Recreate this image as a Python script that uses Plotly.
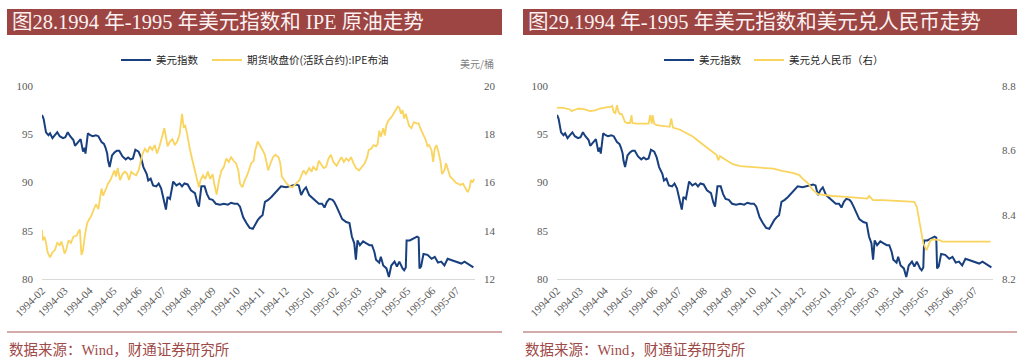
import plotly.graph_objects as go

# ---------------- data ----------------
usd_dates = [
    "1994-02-01", "1994-02-03", "1994-02-06", "1994-02-09", "1994-02-11", "1994-02-14", "1994-02-17",
    "1994-02-20", "1994-02-23", "1994-02-27", "1994-03-02", "1994-03-05", "1994-03-08", "1994-03-12",
    "1994-03-14", "1994-03-18", "1994-03-21", "1994-03-24", "1994-03-26", "1994-03-27", "1994-03-30",
    "1994-04-02", "1994-04-05", "1994-04-09", "1994-04-12", "1994-04-16", "1994-04-19", "1994-04-21",
    "1994-04-23", "1994-04-24", "1994-04-26", "1994-04-28", "1994-04-29", "1994-05-02", "1994-05-05",
    "1994-05-08", "1994-05-12", "1994-05-16", "1994-05-19", "1994-05-22", "1994-05-25", "1994-05-28",
    "1994-06-01", "1994-06-04", "1994-06-07", "1994-06-11", "1994-06-13", "1994-06-16", "1994-06-19",
    "1994-06-23", "1994-06-26", "1994-06-29", "1994-07-02", "1994-07-05", "1994-07-07", "1994-07-10",
    "1994-07-14", "1994-07-18", "1994-07-22", "1994-07-25", "1994-07-28", "1994-08-01", "1994-08-05",
    "1994-08-10", "1994-08-13", "1994-08-15", "1994-08-18", "1994-08-22", "1994-08-25", "1994-08-28",
    "1994-09-01", "1994-09-05", "1994-09-10", "1994-09-15", "1994-09-20", "1994-09-24", "1994-09-28",
    "1994-10-02", "1994-10-05", "1994-10-09", "1994-10-13", "1994-10-17", "1994-10-21", "1994-10-24",
    "1994-10-27", "1994-10-30", "1994-11-02", "1994-11-05", "1994-11-09", "1994-11-13", "1994-11-17",
    "1994-11-21", "1994-11-25", "1994-12-01", "1994-12-08", "1994-12-14", "1994-12-17", "1994-12-20",
    "1994-12-23", "1994-12-26", "1994-12-30", "1995-01-03", "1995-01-07", "1995-01-11", "1995-01-15",
    "1995-01-18", "1995-01-21", "1995-01-24", "1995-01-28", "1995-01-30", "1995-02-02", "1995-02-06",
    "1995-02-09", "1995-02-14", "1995-02-18", "1995-02-21", "1995-02-24", "1995-02-26", "1995-02-28",
    "1995-03-03", "1995-03-07", "1995-03-11", "1995-03-15", "1995-03-18", "1995-03-21", "1995-03-23",
    "1995-03-27", "1995-03-29", "1995-04-01", "1995-04-05", "1995-04-08", "1995-04-11", "1995-04-15",
    "1995-04-18", "1995-04-21", "1995-04-25", "1995-04-27", "1995-04-29", "1995-04-30", "1995-05-04",
    "1995-05-09", "1995-05-13", "1995-05-15", "1995-05-16", "1995-05-18", "1995-05-21", "1995-05-26",
    "1995-05-31", "1995-06-04", "1995-06-08", "1995-06-12", "1995-06-16", "1995-06-20", "1995-06-24",
    "1995-06-29", "1995-07-03", "1995-07-07", "1995-07-11", "1995-07-15", "1995-07-19", "1995-07-22",
]
usd_vals = [
    97.0, 96.6, 95.2, 94.9, 95.1, 94.6, 94.9,
    95.2, 94.8, 94.6, 94.7, 95.2, 94.8, 94.4,
    93.8, 94.2, 94.5, 93.2, 93.6, 93.0, 95.1,
    94.9, 94.8, 94.9, 94.8, 94.2, 94.0, 93.6,
    93.0, 92.3, 91.6, 92.4, 92.8, 93.1, 93.3,
    93.3, 92.7, 92.4, 92.6, 92.4, 92.5, 93.4,
    93.2, 92.6, 91.6, 90.9, 90.2, 90.4, 89.7,
    89.6, 89.9, 89.4, 88.3, 87.2, 88.5, 88.3,
    90.1, 89.7, 89.9, 89.6, 89.9, 89.8, 89.2,
    88.9, 87.9, 87.5, 89.6, 89.6, 88.8, 88.3,
    88.2, 87.8, 87.7, 87.8, 87.7, 87.9, 87.8,
    87.8, 87.5, 86.4, 85.8, 85.3, 85.2, 85.7,
    86.1, 86.4, 86.6, 88.0, 88.2, 88.5, 88.9,
    89.2, 89.6, 89.5, 89.7, 89.8, 89.7, 88.7,
    89.2, 89.5, 88.7, 88.4, 88.1, 87.8, 87.8,
    87.4, 88.0, 88.3, 88.2, 88.0, 87.5, 86.8,
    86.2, 85.9, 85.8, 84.4, 83.7, 82.0, 84.0,
    83.5, 83.9, 83.7, 83.5, 83.5, 82.8, 82.0,
    81.7, 82.3, 81.4, 81.1, 80.2, 81.4, 81.8,
    81.3, 81.8, 81.1, 80.9, 81.2, 84.0, 84.0,
    84.2, 84.4, 84.3, 81.1, 81.3, 82.6, 82.5,
    82.1, 82.3, 81.7, 81.8, 81.4, 82.1, 82.0,
    81.8, 81.7, 81.6, 81.8, 81.6, 81.4, 81.2,
]

oil_dates = [
    "1994-02-01", "1994-02-02", "1994-02-04", "1994-02-06", "1994-02-08", "1994-02-11", "1994-02-14",
    "1994-02-17", "1994-02-20", "1994-02-23", "1994-02-25", "1994-02-27", "1994-03-01", "1994-03-03",
    "1994-03-06", "1994-03-09", "1994-03-12", "1994-03-16", "1994-03-18", "1994-03-20", "1994-03-22",
    "1994-03-24", "1994-03-26", "1994-03-29", "1994-03-31", "1994-04-03", "1994-04-06", "1994-04-09",
    "1994-04-12", "1994-04-14", "1994-04-16", "1994-04-18", "1994-04-21", "1994-04-24", "1994-04-27",
    "1994-04-29", "1994-05-02", "1994-05-04", "1994-05-06", "1994-05-09", "1994-05-12", "1994-05-15",
    "1994-05-18", "1994-05-20", "1994-05-23", "1994-05-26", "1994-05-29", "1994-06-01", "1994-06-04",
    "1994-06-06", "1994-06-09", "1994-06-12", "1994-06-15", "1994-06-18", "1994-06-21", "1994-06-24",
    "1994-06-27", "1994-06-30", "1994-07-03", "1994-07-05", "1994-07-07", "1994-07-10", "1994-07-13",
    "1994-07-16", "1994-07-19", "1994-07-22", "1994-07-24", "1994-07-25", "1994-07-27", "1994-07-29",
    "1994-08-01", "1994-08-03", "1994-08-07", "1994-08-10", "1994-08-13", "1994-08-15", "1994-08-17",
    "1994-08-20", "1994-08-23", "1994-08-26", "1994-08-29", "1994-09-01", "1994-09-03", "1994-09-06",
    "1994-09-09", "1994-09-12", "1994-09-15", "1994-09-18", "1994-09-21", "1994-09-24", "1994-09-27",
    "1994-09-30", "1994-10-03", "1994-10-05", "1994-10-08", "1994-10-11", "1994-10-14", "1994-10-16",
    "1994-10-19", "1994-10-22", "1994-10-24", "1994-10-27", "1994-10-30", "1994-11-02", "1994-11-05",
    "1994-11-07", "1994-11-09", "1994-11-12", "1994-11-15", "1994-11-18", "1994-11-22", "1994-11-24",
    "1994-11-26", "1994-11-29", "1994-12-02", "1994-12-06", "1994-12-09", "1994-12-12", "1994-12-15",
    "1994-12-18", "1994-12-21", "1994-12-23", "1994-12-26", "1994-12-30", "1995-01-02", "1995-01-04",
    "1995-01-08", "1995-01-11", "1995-01-14", "1995-01-17", "1995-01-20", "1995-01-23", "1995-01-26",
    "1995-01-29", "1995-02-02", "1995-02-05", "1995-02-08", "1995-02-11", "1995-02-14", "1995-02-17",
    "1995-02-20", "1995-02-23", "1995-02-26", "1995-03-02", "1995-03-05", "1995-03-09", "1995-03-12",
    "1995-03-14", "1995-03-17", "1995-03-20", "1995-03-23", "1995-03-25", "1995-03-27", "1995-03-29",
    "1995-04-01", "1995-04-03", "1995-04-05", "1995-04-08", "1995-04-11", "1995-04-14", "1995-04-16",
    "1995-04-19", "1995-04-21", "1995-04-23", "1995-04-25", "1995-04-27", "1995-04-29", "1995-05-03",
    "1995-05-06", "1995-05-09", "1995-05-12", "1995-05-15", "1995-05-17", "1995-05-20", "1995-05-24",
    "1995-05-26", "1995-05-28", "1995-05-31", "1995-06-02", "1995-06-04", "1995-06-06", "1995-06-08",
    "1995-06-11", "1995-06-13", "1995-06-16", "1995-06-18", "1995-06-21", "1995-06-23", "1995-06-26",
    "1995-06-30", "1995-07-03", "1995-07-06", "1995-07-09", "1995-07-12", "1995-07-15", "1995-07-17",
    "1995-07-19", "1995-07-21", "1995-07-23",
]
oil_vals = [
    14.03, 13.6, 13.75, 13.5, 13.1, 12.9, 13.1,
    13.2, 13.5, 13.4, 13.55, 13.35, 13.05, 13.2,
    13.6, 13.5, 13.75, 13.8, 13.95, 14.05, 13.0,
    13.2, 13.75, 14.3, 14.45, 14.6, 14.85, 15.1,
    14.9, 15.4, 15.75, 15.45, 15.7, 15.95, 16.1,
    16.25, 16.5, 16.25, 16.6, 16.1, 16.35, 16.45,
    16.35, 16.1, 16.45, 16.35, 16.3, 16.5, 16.9,
    17.2, 17.4, 17.25, 17.5, 17.35, 17.55, 17.2,
    17.5, 17.9, 18.25, 17.9, 17.5, 17.7, 17.8,
    17.55, 17.7, 18.0, 18.6, 18.85, 18.3, 18.35,
    17.9, 17.5, 16.9, 16.5, 16.15, 15.8, 16.1,
    16.3, 16.15, 16.45, 16.15, 16.35, 15.95, 15.5,
    16.1, 16.5, 16.65, 17.0, 16.85, 17.05, 16.9,
    16.8, 16.5, 15.95, 15.8, 16.1, 16.3, 16.5,
    16.8, 16.9, 17.35, 17.7, 17.55, 17.35, 17.15,
    16.85, 16.5, 16.8, 17.05, 17.15, 17.05, 16.8,
    16.25, 16.1, 15.95, 15.85, 15.8, 15.9, 16.0,
    16.1, 16.35, 16.5, 16.35, 16.6, 16.45, 16.65,
    16.5, 16.9, 16.75, 16.6, 16.65, 17.0, 17.15,
    16.85, 16.7, 16.9, 17.05, 16.85, 17.0, 16.9,
    17.05, 16.8, 16.6, 16.5, 16.65, 16.8, 17.05,
    17.35, 17.4, 17.55, 17.5, 17.6, 18.15, 17.9,
    18.25, 17.95, 18.4, 18.6, 18.7, 18.85, 19.0,
    19.15, 19.1, 18.85, 19.0, 18.65, 18.85, 18.35,
    18.25, 18.5, 18.45, 18.45, 18.25, 18.05, 17.75,
    17.5, 17.55, 17.35, 16.85, 17.4, 17.55, 17.35,
    16.9, 16.35, 16.5, 16.8, 16.45, 16.25, 16.15,
    16.0, 15.95, 15.9, 15.95, 15.75, 15.6, 15.75,
    16.1, 16.0, 16.15,
]

cny_dates = [
    "1994-02-01", "1994-02-09", "1994-02-17", "1994-02-19", "1994-02-24", "1994-02-28", "1994-03-06",
    "1994-03-14", "1994-03-20", "1994-03-26", "1994-04-01", "1994-04-08", "1994-04-10", "1994-04-12",
    "1994-04-14", "1994-04-16", "1994-04-18", "1994-04-20", "1994-04-22", "1994-04-24", "1994-04-26",
    "1994-04-29", "1994-05-02", "1994-05-04", "1994-05-05", "1994-05-10", "1994-05-19", "1994-05-25",
    "1994-05-27", "1994-05-29", "1994-05-30", "1994-06-01", "1994-06-04", "1994-06-12", "1994-06-20",
    "1994-06-22", "1994-06-24", "1994-07-03", "1994-07-11", "1994-07-19", "1994-07-27", "1994-08-05",
    "1994-08-13", "1994-08-17", "1994-08-19", "1994-08-21", "1994-08-29", "1994-09-06", "1994-09-15",
    "1994-09-27", "1994-10-13", "1994-10-26", "1994-11-07", "1994-11-19", "1994-11-27", "1994-12-01",
    "1994-12-08", "1994-12-14", "1994-12-20", "1994-12-28", "1995-01-07", "1995-01-20", "1995-02-05",
    "1995-02-19", "1995-02-21", "1995-02-26", "1995-03-10", "1995-03-26", "1995-04-12", "1995-04-18",
    "1995-04-21", "1995-04-24", "1995-04-27", "1995-04-29", "1995-05-03", "1995-05-05", "1995-05-08",
    "1995-05-11", "1995-05-19", "1995-05-23", "1995-05-31", "1995-06-16", "1995-07-03", "1995-07-21",
]
cny_vals = [
    8.733, 8.732, 8.727, 8.722, 8.727, 8.730, 8.728,
    8.722, 8.724, 8.730, 8.733, 8.735, 8.738, 8.719,
    8.716, 8.740, 8.719, 8.712, 8.713, 8.699, 8.688,
    8.685, 8.685, 8.709, 8.685, 8.683, 8.683, 8.683,
    8.709, 8.683, 8.709, 8.683, 8.678, 8.675, 8.673,
    8.699, 8.671, 8.664, 8.654, 8.642, 8.626, 8.609,
    8.595, 8.585, 8.569, 8.582, 8.569, 8.557, 8.551,
    8.549, 8.547, 8.543, 8.535, 8.530, 8.523, 8.512,
    8.497, 8.476, 8.464, 8.461, 8.458, 8.456, 8.452,
    8.450, 8.458, 8.445, 8.445, 8.443, 8.443, 8.440,
    8.424, 8.383, 8.331, 8.311, 8.290, 8.305, 8.321,
    8.323, 8.321, 8.316, 8.316, 8.318, 8.317, 8.316,
]

left_title = "图28.1994 年-1995 年美元指数和 IPE 原油走势"
right_title = "图29.1994 年-1995 年美元指数和美元兑人民币走势"
source_text = "数据来源：Wind，财通证券研究所"
usd_name = "美元指数"
oil_name = "期货收盘价(活跃合约):IPE布油"
cny_name = "美元兑人民币（右）"
oil_unit = "美元/桶"

# ---------------- layout helpers ----------------
W, H = 1024, 361


def px(x):
    return x / W


def py(y):
    return 1 - y / H


BLUE = "#183F7E"
YELLOW = "#F9D45F"
BANNER = "#9C4543"
RULE = "#A65656"
SRC = "#9E4A48"
TICK_FONT = dict(family="Liberation Serif, Times New Roman, serif", size=11, color="#595959")
LEG_FONT = dict(family="Noto Sans CJK SC, sans-serif", size=10.5, color="#262626")

fig = go.Figure()
fig.add_trace(go.Scatter(x=usd_dates, y=usd_vals, name=usd_name, mode="lines",
                         line=dict(color=BLUE, width=2), xaxis="x", yaxis="y", legend="legend"))
fig.add_trace(go.Scatter(x=oil_dates, y=oil_vals, name=oil_name, mode="lines",
                         line=dict(color=YELLOW, width=1.8), xaxis="x", yaxis="y2", legend="legend2"))
fig.add_trace(go.Scatter(x=usd_dates, y=usd_vals, name=usd_name, mode="lines",
                         line=dict(color=BLUE, width=2), xaxis="x2", yaxis="y3", legend="legend3"))
fig.add_trace(go.Scatter(x=cny_dates, y=cny_vals, name=cny_name, mode="lines",
                         line=dict(color=YELLOW, width=1.8), xaxis="x2", yaxis="y4", legend="legend4"))

xcommon = dict(type="date", range=["1994-02-01", "1995-07-24"], tick0="1994-02-01", dtick="M1",
               tickformat="%Y-%m", tickangle=-45, showgrid=False, zeroline=False, showline=True,
               linecolor="#D9D9D9", linewidth=1, ticks="", tickfont=TICK_FONT, fixedrange=True,
               automargin=False)
ycommon = dict(showgrid=False, zeroline=False, showline=False, ticks="", tickfont=TICK_FONT,
               ticklabelstandoff=8, automargin=False)

ydom = [py(279), py(86)]

fig.update_layout(
    template="none",
    width=W, height=H,
    margin=dict(l=0, r=0, t=0, b=0, autoexpand=False),
    paper_bgcolor="white", plot_bgcolor="white",
    xaxis=dict(domain=[px(42), px(475)], anchor="y", **xcommon),
    yaxis=dict(domain=ydom, anchor="x", range=[80, 100], tickvals=[80, 85, 90, 95, 100], **ycommon),
    yaxis2=dict(overlaying="y", side="right", anchor="x", range=[12, 20], tickvals=[12, 14, 16, 18, 20], **ycommon),
    xaxis2=dict(domain=[px(557), px(993)], anchor="y3", **xcommon),
    yaxis3=dict(domain=ydom, anchor="x2", range=[80, 100], tickvals=[80, 85, 90, 95, 100], **ycommon),
    yaxis4=dict(overlaying="y3", side="right", anchor="x2", range=[8.2, 8.8], tickvals=[8.2, 8.4, 8.6, 8.8],
                tickformat=".1f", **ycommon),
    showlegend=True,
)

leg = dict(orientation="h", xanchor="left", yanchor="middle", bgcolor="rgba(0,0,0,0)",
           font=LEG_FONT, itemwidth=30, borderwidth=0)
fig.update_layout(
    legend=dict(x=px(116), y=py(60), **leg),
    legend2=dict(x=px(207), y=py(60), **leg),
    legend3=dict(x=px(659), y=py(60), **leg),
    legend4=dict(x=px(749), y=py(60), **leg),
)

shapes = []
for x0, x1 in [(7, 502), (523, 1017)]:
    shapes.append(dict(type="rect", xref="paper", yref="paper", x0=px(x0), x1=px(x1), y0=py(35), y1=py(9),
                       fillcolor=BANNER, line=dict(width=0), layer="below"))
    shapes.append(dict(type="line", xref="paper", yref="paper", x0=px(x0), x1=px(x1), y0=py(332), y1=py(332),
                       line=dict(color=RULE, width=1)))
fig.update_layout(shapes=shapes)

TITLE_FONT = dict(family="Liberation Serif, Noto Sans CJK SC, serif", size=20.5, color="#FBF1F1")
SRC_FONT = dict(family="Liberation Serif, Noto Sans CJK SC, serif", size=14.5, color=SRC)
annotations = [
    dict(text=left_title, x=px(10), y=py(22), xref="paper", yref="paper", xanchor="left", yanchor="middle",
         showarrow=False, font=TITLE_FONT),
    dict(text=right_title, x=px(526), y=py(22), xref="paper", yref="paper", xanchor="left", yanchor="middle",
         showarrow=False, font=TITLE_FONT),
    dict(text=source_text, x=px(7), y=py(350), xref="paper", yref="paper", xanchor="left", yanchor="middle",
         showarrow=False, font=SRC_FONT),
    dict(text=source_text, x=px(523), y=py(350), xref="paper", yref="paper", xanchor="left", yanchor="middle",
         showarrow=False, font=SRC_FONT),
    dict(text=oil_unit, x=px(496), y=py(64), xref="paper", yref="paper", xanchor="right", yanchor="middle",
         showarrow=False, font=dict(family="Noto Sans CJK SC, sans-serif", size=10, color="#7F7F7F")),
]
fig.update_layout(annotations=annotations)

fig.write_html("out.html", config={"displayModeBar": False},
               post_script="document.body.style.margin='0';document.body.style.overflow='hidden';")
